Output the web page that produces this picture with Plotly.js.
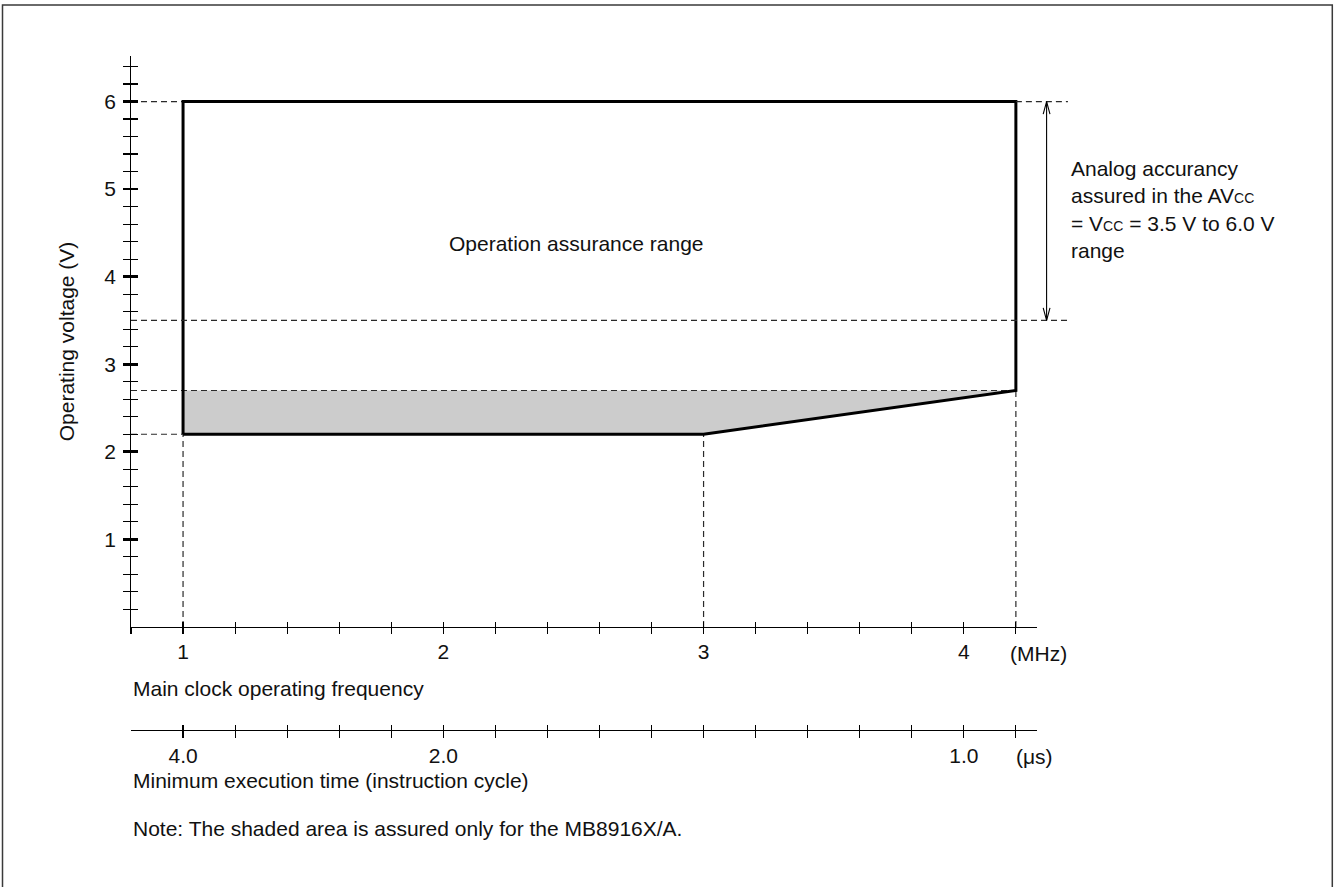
<!DOCTYPE html>
<html>
<head>
<meta charset="utf-8">
<script src="https://cdn.plot.ly/plotly-3.0.1.min.js"></script>
<style>
  html, body { margin: 0; padding: 0; background: #ffffff; }
  #chart { width: 1338px; height: 887px; }
</style>
</head>
<body>
<div id="chart"></div>
<script>
// ---------------- data ----------------
// Main clock operating frequency axis (MHz): tick positions and labels
const freqTickVals = [0.8, 1.0, 1.2, 1.4, 1.6, 1.8, 2.0, 2.2, 2.4, 2.6, 2.8, 3.0, 3.2, 3.4, 3.6, 3.8, 4.0, 4.2];
const freqTickText = ['', '1', '', '', '', '', '2', '', '', '', '', '3', '', '', '', '', '4', ''];

// Minimum execution time axis (µs), aligned to the frequency positions
const execTickVals = [1.0, 1.2, 1.4, 1.6, 1.8, 2.0, 2.2, 2.4, 2.6, 2.8, 3.0, 3.2, 3.4, 3.6, 3.8, 4.0, 4.2];
const execTickText = ['4.0', '', '', '', '', '2.0', '', '', '', '', '', '', '', '', '', '1.0', ''];

// Operating voltage axis (V)
const voltTickVals = [1, 2, 3, 4, 5, 6];
const voltMinorVals = [0.2, 0.4, 0.6, 0.8, 1.2, 1.4, 1.6, 1.8, 2.2, 2.4, 2.6, 2.8, 3.2, 3.4, 3.6, 3.8,
                       4.2, 4.4, 4.6, 4.8, 5.2, 5.4, 5.6, 5.8, 6.2, 6.4];

// Operation assurance range outline (MHz, V)
const rangeFreq = [1.0, 1.0, 4.2, 4.2, 3.0, 1.0];
const rangeVolt = [2.2, 6.0, 6.0, 2.7, 2.2, 2.2];

// Shaded area (assured only for MB8916X/A)
const shadedFreq = [1.0, 3.0, 4.2, 1.0];
const shadedVolt = [2.2, 2.2, 2.7, 2.7];

// Analog accuracy range (V)
const analogVolt = [3.5, 6.0];

// ---------------- geometry / styling ----------------
const W = 1338, H = 887;
const FONT = 'Liberation Sans, Arial, Helvetica, sans-serif';
const INK = '#111111';
const FS = 21;

const freqRange = [0.8, 4.28];
const voltRange = [0, 6.52];
const px = { left: 131, right: 1036.7, bottom: 626.9, top: 56, exec: 729.5 };
const xDomain = [px.left / W, px.right / W];
const yDomain = [(H - px.bottom) / H, (H - px.top) / H];
const pxPerMHz = (px.right - px.left) / (freqRange[1] - freqRange[0]);
const pxPerV = (px.bottom - px.top) / (voltRange[1] - voltRange[0]);
const wideRange = [freqRange[0], freqRange[0] + (W - px.left) / pxPerMHz];
const execPos = (H - px.exec) / H;

const fMin = rangeFreq[0], fMax = Math.max(...rangeFreq), fKnee = shadedFreq[1];
const vLow = Math.min(...rangeVolt), vHigh = Math.max(...rangeVolt), vShade = Math.max(...shadedVolt);
const x0 = freqRange[0];
const guideEnd = 4.4;      // where the right-hand dashed guides stop
const arrowFreq = 4.318;   // horizontal position of the analog-range arrow

// dashed guides inside the main axes
const guideX = [x0, fMin, null, x0, fMin, null, x0, fMax, null,
                fMin, fMin, null, fKnee, fKnee, null, fMax, fMax];
const guideY = [vHigh, vHigh, null, vLow, vLow, null, vShade, vShade, null,
                0, vLow, null, 0, vLow, null, 0, vShade];
// dashed guides that run past the end of the frequency axis
const wideGuideX = [fMax, guideEnd, null, x0, guideEnd];
const wideGuideY = [analogVolt[1], analogVolt[1], null, analogVolt[0], analogVolt[0]];

// double-headed arrow (open heads)
const headDx = 3.4 / pxPerMHz, headDy = 12.5 / pxPerV;
const aTop = analogVolt[1], aBot = analogVolt[0];
const arrowX = [arrowFreq, arrowFreq, null,
                arrowFreq - headDx, arrowFreq, arrowFreq + headDx, null,
                arrowFreq - headDx, arrowFreq, arrowFreq + headDx];
const arrowY = [aBot, aTop, null,
                aTop - headDy, aTop, aTop - headDy, null,
                aBot + headDy, aBot, aBot + headDy];

const dashStyle = { color: '#2a2a2a', width: 1.2, dash: '6px,4px' };

// empty carrier traces so the tick-only overlay axes get drawn
function carrier(xa, ya) {
  return { type: 'scatter', mode: 'lines', x: [null], y: [null], xaxis: xa, yaxis: ya,
           hoverinfo: 'skip', showlegend: false };
}

const traces = [
  { type: 'scatter', mode: 'lines', x: shadedFreq, y: shadedVolt, fill: 'toself',
    fillcolor: '#cccccc', line: { width: 0 }, hoverinfo: 'skip', showlegend: false, xaxis: 'x', yaxis: 'y' },
  { type: 'scatter', mode: 'lines', x: guideX, y: guideY, line: dashStyle,
    hoverinfo: 'skip', showlegend: false, xaxis: 'x', yaxis: 'y' },
  { type: 'scatter', mode: 'lines', x: rangeFreq, y: rangeVolt, line: { color: '#000000', width: 3 },
    hoverinfo: 'skip', showlegend: false, xaxis: 'x', yaxis: 'y' },
  { type: 'scatter', mode: 'lines', x: wideGuideX, y: wideGuideY, line: dashStyle,
    hoverinfo: 'skip', showlegend: false, xaxis: 'x2', yaxis: 'y' },
  { type: 'scatter', mode: 'lines', x: arrowX, y: arrowY, line: { color: '#000000', width: 1.1 },
    hoverinfo: 'skip', showlegend: false, xaxis: 'x2', yaxis: 'y' },
  carrier('x3', 'y'), carrier('x4', 'y'), carrier('x5', 'y'), carrier('x', 'y2')
];

const tickFont = { family: FONT, size: FS, color: INK };
const bare = { showgrid: false, zeroline: false, fixedrange: true };

const layout = {
  width: W, height: H,
  margin: { l: 0, r: 0, t: 0, b: 0, pad: 0 },
  paper_bgcolor: '#ffffff',
  plot_bgcolor: 'rgba(0,0,0,0)',
  showlegend: false,
  font: { family: FONT, size: FS, color: INK },
  xaxis: Object.assign({}, bare, {
    domain: xDomain, range: freqRange, anchor: 'y',
    showline: true, linecolor: '#000000', linewidth: 1.3,
    ticks: 'outside', ticklen: 6, tickwidth: 1.2, tickcolor: '#000000',
    tickmode: 'array', tickvals: freqTickVals, ticktext: freqTickText, tickfont: tickFont
  }),
  xaxis2: Object.assign({}, bare, {
    domain: [xDomain[0], 1], range: wideRange, anchor: 'y', visible: false
  }),
  xaxis3: Object.assign({}, bare, {
    overlaying: 'x', anchor: 'y', range: freqRange, showline: false,
    ticks: 'inside', ticklen: 5, tickwidth: 1.2, tickcolor: '#000000',
    tickmode: 'array', tickvals: freqTickVals, showticklabels: false
  }),
  xaxis4: Object.assign({}, bare, {
    overlaying: 'x', anchor: 'free', position: execPos, range: freqRange,
    showline: true, linecolor: '#000000', linewidth: 1.1,
    ticks: 'outside', ticklen: 7, tickwidth: 1.2, tickcolor: '#000000',
    tickmode: 'array', tickvals: execTickVals, ticktext: execTickText, tickfont: tickFont
  }),
  xaxis5: Object.assign({}, bare, {
    overlaying: 'x', anchor: 'free', position: execPos, range: freqRange, showline: false,
    ticks: 'inside', ticklen: 4.5, tickwidth: 1.2, tickcolor: '#000000',
    tickmode: 'array', tickvals: execTickVals, showticklabels: false
  }),
  yaxis: Object.assign({}, bare, {
    domain: yDomain, range: voltRange, anchor: 'x',
    showline: true, linecolor: '#000000', linewidth: 1.3,
    ticks: 'outside', ticklen: 6.5, tickwidth: 2.6, tickcolor: '#000000',
    tickmode: 'array', tickvals: voltTickVals, tickfont: tickFont, ticklabelstandoff: 3,
    minor: { tickmode: 'array', tickvals: voltMinorVals, ticks: 'outside', ticklen: 6.5, tickwidth: 1.2, tickcolor: '#000000' },
    title: { text: 'Operating voltage (V)', font: { family: FONT, size: FS, color: INK }, standoff: 24 }
  }),
  yaxis2: Object.assign({}, bare, {
    overlaying: 'y', anchor: 'x', side: 'left', range: voltRange, showline: false,
    ticks: 'inside', ticklen: 6.5, tickwidth: 2.6, tickcolor: '#000000',
    tickmode: 'array', tickvals: voltTickVals, showticklabels: false,
    minor: { tickmode: 'array', tickvals: voltMinorVals, ticks: 'inside', ticklen: 6.5, tickwidth: 1.2, tickcolor: '#000000' }
  }),
  annotations: [
    { text: 'Operation assurance range', xref: 'x', yref: 'y', x: 2.51, y: 4.384,
      showarrow: false, xanchor: 'center', yanchor: 'middle', font: { size: FS } },
    { text: 'Analog accurancy<br>assured in the AV<span style="font-size:14px">CC</span><br>= V<span style="font-size:14px">CC</span> = 3.5 V to 6.0 V<br>range',
      xref: 'x2', yref: 'y', x: 4.405, y: 4.77, showarrow: false, xanchor: 'left', yanchor: 'middle',
      align: 'left', font: { size: FS } },
    { text: '(MHz)', xref: 'x2', yref: 'paper', x: 4.285, y: (H - 653) / H,
      showarrow: false, xanchor: 'center', yanchor: 'middle', font: { size: FS } },
    { text: '(\u03bcs)', xref: 'x2', yref: 'paper', x: 4.273, y: (H - 756) / H,
      showarrow: false, xanchor: 'center', yanchor: 'middle', font: { size: FS } },
    { text: 'Main clock operating frequency', xref: 'x', yref: 'paper', x: x0, y: (H - 688) / H,
      showarrow: false, xanchor: 'left', yanchor: 'middle', font: { size: FS } },
    { text: 'Minimum execution time (instruction cycle)', xref: 'x', yref: 'paper', x: x0, y: (H - 780) / H,
      showarrow: false, xanchor: 'left', yanchor: 'middle', font: { size: FS } },
    { text: 'Note: The shaded area is assured only for the MB8916X/A.', xref: 'x', yref: 'paper', x: x0, y: (H - 828) / H,
      showarrow: false, xanchor: 'left', yanchor: 'middle', font: { size: FS } }
  ],
  shapes: [
    { type: 'rect', xref: 'paper', yref: 'paper', x0: 2.5 / W, x1: 1332.3 / W, y0: -0.02, y1: (H - 5) / H,
      line: { color: '#3a3a3a', width: 1.5 }, fillcolor: 'rgba(0,0,0,0)', layer: 'above' }
  ]
};

Plotly.newPlot('chart', traces, layout, { staticPlot: true, displayModeBar: false });
</script>
</body>
</html>
